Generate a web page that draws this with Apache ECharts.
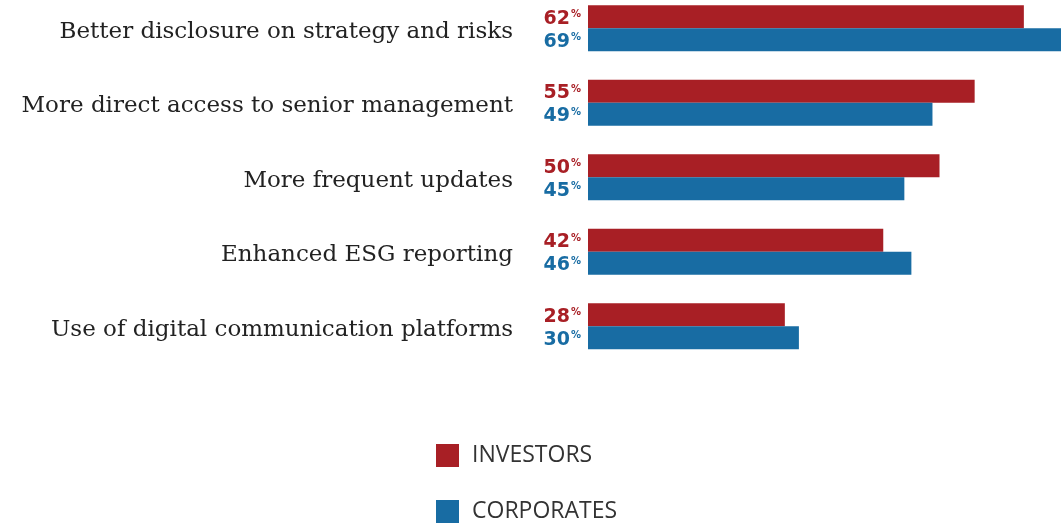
<!DOCTYPE html>
<html>
<head>
<meta charset="utf-8">
<script src="https://cdn.jsdelivr.net/npm/echarts@6/dist/echarts.min.js"></script>
<style>
	html, body { margin: 0; padding: 0; background: #fff; }
	#main { width: 1061px; height: 523px; }
</style>
</head>
<body>
<div id="main"></div>
<script>
var categories = [
	'Better disclosure on strategy and risks',
	'More direct access to senior management',
	'More frequent updates',
	'Enhanced ESG reporting',
	'Use of digital communication platforms'
];
var investors = [62, 55, 50, 42, 28];
var corporates = [69, 49, 45, 46, 30];

var red = '#a81f25';
var blue = '#186ca3';

function labelFor(color){
	return {
		show: true,
		position: 'left',
		distance: 7,
		offset: [0, 2],
		formatter: function(p){ return '{v|' + p.value + '}{p|%}'; },
		rich: {
			v: { fontFamily: 'DejaVu Sans', fontWeight: 'bold', fontSize: 19, color: color },
			p: { fontFamily: 'DejaVu Sans', fontWeight: 'bold', fontSize: 10, color: color, padding: [0, 0, 8, 1] }
		}
	};
}

function legendAt(name, top){
	return {
		orient: 'vertical',
		left: 431,
		top: top,
		itemWidth: 23,
		itemHeight: 23,
		icon: 'rect',
		textStyle: { fontFamily: 'Open Sans', fontSize: 23, color: '#333', padding: [0, 0, 0, 8] },
		data: [name]
	};
}

var chart = echarts.init(document.getElementById('main'));
chart.setOption({
	animation: false,
	grid: { left: 588, top: -9, width: 703, height: 372.5, outerBoundsMode: 'none' },
	xAxis: {
		type: 'value', min: 0, max: 100, show: false
	},
	yAxis: {
		type: 'category',
		inverse: true,
		data: categories,
		axisLine: { show: false },
		axisTick: { show: false },
		axisLabel: {
			margin: 75,
			formatter: function(v){ return '{c|' + v + '}'; },
			rich: {
				c: {
					fontFamily: 'DejaVu Serif',
					fontSize: 23,
					color: '#222',
					padding: [7, 0, 0, 0]
				}
			}
		}
	},
	legend: [legendAt('INVESTORS', 439), legendAt('CORPORATES', 495)],
	series: [
		{
			name: 'INVESTORS', type: 'bar', data: investors,
			barWidth: 23, barGap: '0%',
			itemStyle: { color: red },
			label: labelFor(red)
		},
		{
			name: 'CORPORATES', type: 'bar', data: corporates,
			barWidth: 23, barGap: '0%',
			itemStyle: { color: blue },
			label: labelFor(blue)
		}
	]
});
</script>
</body>
</html>
